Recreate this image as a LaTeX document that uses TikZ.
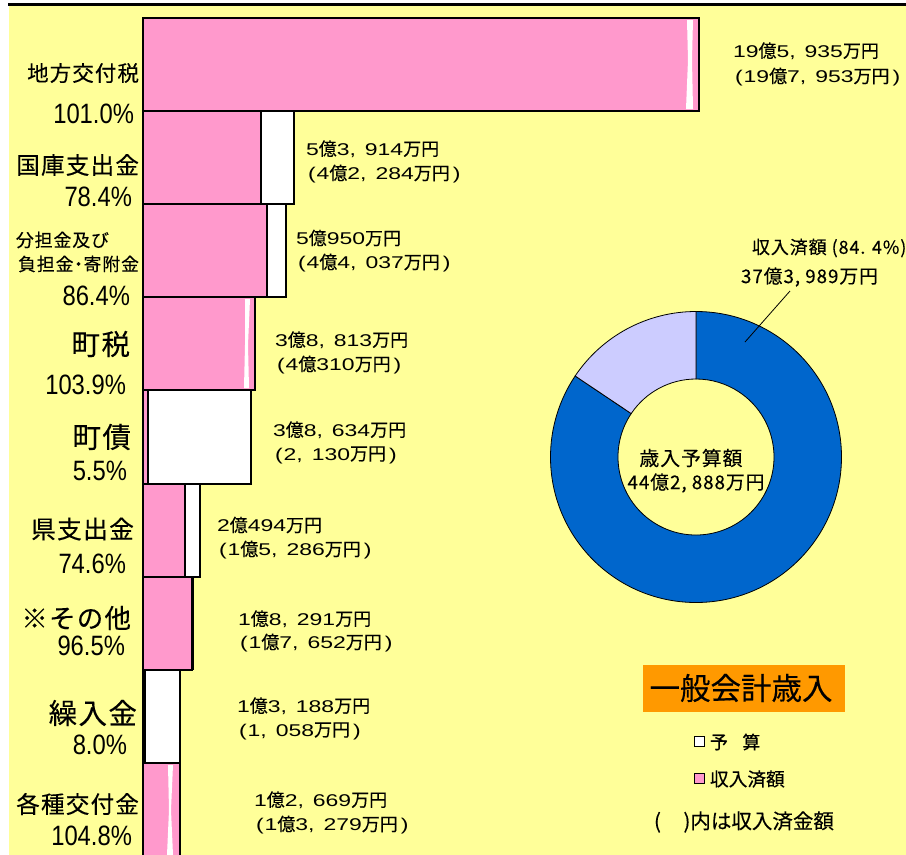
\documentclass[tikz,border=0pt]{standalone}
\usepackage{fontspec}
\setmainfont{Liberation Sans}
\newfontfamily\cjk[LetterSpace=5,FakeBold=0.25]{Noto Sans CJK JP}
\newfontfamily\cjkn[FakeBold=0.25]{Noto Sans CJK JP}
\newfontfamily\digitf[FakeStretch=1.35]{Liberation Sans}
\newfontfamily\pctf[FakeStretch=0.85]{Liberation Sans}
\definecolor{bgy}{HTML}{FFFF99}
\definecolor{pinkbar}{HTML}{FF99CC}
\definecolor{lav}{HTML}{CCCCFF}
\definecolor{donutblue}{HTML}{0066CC}
\definecolor{orangebox}{HTML}{FF9900}
\newcommand{\zh}[1]{\fontsize{#1}{#1}\selectfont\cjk}
\newcommand{\zn}[1]{\fontsize{#1}{#1}\selectfont\cjkn}
\newcommand{\dg}[1]{{\digitf\fontsize{17}{17}\selectfont #1}}
\newcommand{\cm}{\dg{,}\hspace{9pt}}
\newcommand{\lpr}{\hspace{2pt}\dg{(}\hspace{1pt}}
\newcommand{\rpr}{\hspace{3pt}\dg{)}}
\tikzset{
  x=1pt,y=-1pt,
  txt/.style={inner sep=0pt,outer sep=0pt,text=black},
  val/.style={txt,anchor=west,font=\zn{18}},
  pct/.style={txt,anchor=east,font=\fontsize{28}{28}\selectfont\pctf},
  cat/.style={txt,anchor=east},
  actual/.style={fill=pinkbar,draw=black,line width=1.7pt},
  budget/.style={fill=white,draw=black,line width=1.7pt},
  sliver/.style={fill=white,draw=none},
  ring/.style={draw=black,line width=0.8pt}
}
\newcommand{\seg}[3]{%
  \fill[#3,ring] (#1:145.5) arc[start angle=#1,end angle=#2,radius=145.5] -- (#2:78) arc[start angle=#2,end angle=#1,radius=78] -- cycle;
}
\begin{document}
\begin{tikzpicture}
\useasboundingbox (0,0) rectangle (906,855);
\fill[bgy] (9,6) rectangle (906,855);
\fill[black] (8,3) rectangle (906,6);
% bars
\begin{scope}
\clip (0,0) rectangle (906,855);
\draw[actual] (143,18) rectangle (699,111);
\fill[sliver] (687,20) -- (693,20) -- (692,60) -- (693,109) -- (686,109) -- (688,60) -- cycle;
\draw[budget] (143,111) rectangle (294,204);
\draw[actual] (143,111) rectangle (261,204);
\draw[budget] (143,204) rectangle (286,297);
\draw[actual] (143,204) rectangle (267,297);
\draw[actual] (143,297) rectangle (255,390);
\fill[sliver] (245,299) -- (250,299) -- (248,345) -- (249,388) -- (244,388) -- (245,345) -- cycle;
\draw[budget] (143,390) rectangle (251,484);
\draw[actual] (143,390) rectangle (148,484);
\draw[budget] (143,484) rectangle (200,577);
\draw[actual] (143,484) rectangle (185,577);
\draw[actual] (143,577) rectangle (192,670);
\draw[black,line width=2.2pt] (193,577) -- (193,670);
\draw[budget] (143,670) rectangle (180,763);
\draw[actual] (143,670) rectangle (145,763);
\draw[actual] (143,763) rectangle (180,860);
\fill[sliver] (168,765) -- (173,765) -- (171,810) -- (173,855) -- (167,855) -- (169,810) -- cycle;
\end{scope}
% category labels
\node[cat,font=\zh{21.5}] (c1) at (139,73) {地方交付税};
\node[pct] (p1) at (134,114) {101.0\%};
\node[cat,font=\zh{23.6}] (c2) at (139,165) {国庫支出金};
\node[pct] (p2) at (132,197) {78.4\%};
\node[cat,font=\zh{17.9}] (c3a) at (109,240) {分担金及び};
\node[cat,font=\zh{17.9}] (c3b) at (139,264) {負担金\hspace{-4pt}・\hspace{-4pt}寄附金};
\node[pct] (p3) at (130,296) {86.4\%};
\node[cat,font=\zh{28.5}] (c4) at (130,344) {町税};
\node[pct] (p4) at (126,385) {103.9\%};
\node[cat,font=\zh{28.5}] (c5) at (131,437) {町債};
\node[pct] (p5) at (127,471) {5.5\%};
\node[cat,font=\zh{24.8}] (c6) at (134,529) {県支出金};
\node[pct] (p6) at (126,564) {74.6\%};
\node[cat,font=\zh{26.4}] (c7) at (131,618) {※その他};
\node[pct] (p7) at (125,646) {96.5\%};
\node[cat,font=\zh{28.5}] (c8) at (137,713) {繰入金};
\node[pct] (p8) at (127,745) {8.0\%};
\node[cat,font=\zh{23.6}] (c9) at (139,804) {各種交付金};
\node[pct] (p9) at (132,836) {104.8\%};
% values
\node[val] (v1a) at (733,51) {\dg{19}億\dg{5}\cm\dg{935}万円};
\node[val] (v1b) at (733,77) {\lpr\dg{19}億\dg{7}\cm\dg{953}万円\rpr};
\node[val] (v2a) at (306,149) {\dg{5}億\dg{3}\cm\dg{914}万円};
\node[val] (v2b) at (306,174) {\lpr\dg{4}億\dg{2}\cm\dg{284}万円\rpr};
\node[val] (v3a) at (296,238) {\dg{5}億\dg{950}万円};
\node[val] (v3b) at (296,263) {\lpr\dg{4}億\dg{4}\cm\dg{037}万円\rpr};
\node[val] (v4a) at (275,340) {\dg{3}億\dg{8}\cm\dg{813}万円};
\node[val] (v4b) at (275,365) {\lpr\dg{4}億\dg{310}万円\rpr};
\node[val] (v5a) at (273,430) {\dg{3}億\dg{8}\cm\dg{634}万円};
\node[val] (v5b) at (273,455) {\lpr\dg{2}\cm\dg{130}万円\rpr};
\node[val] (v6a) at (217,525) {\dg{2}億\dg{494}万円};
\node[val] (v6b) at (217,550) {\lpr\dg{1}億\dg{5}\cm\dg{286}万円\rpr};
\node[val] (v7a) at (238,619) {\dg{1}億\dg{8}\cm\dg{291}万円};
\node[val] (v7b) at (238,643) {\lpr\dg{1}億\dg{7}\cm\dg{652}万円\rpr};
\node[val] (v8a) at (237,706) {\dg{1}億\dg{3}\cm\dg{188}万円};
\node[val] (v8b) at (237,731) {\lpr\dg{1}\cm\dg{058}万円\rpr};
\node[val] (v9a) at (254,800) {\dg{1}億\dg{2}\cm\dg{669}万円};
\node[val] (v9b) at (254,825) {\lpr\dg{1}億\dg{3}\cm\dg{279}万円\rpr};
% donut
\begin{scope}[shift={(696,457)},y=1pt]
\seg{90}{-213.84}{donutblue}
\seg{146.16}{90}{lav}
\end{scope}
\node[txt,font=\zh{19.8}] (d1) at (691,458) {歳入予算額};
\node[txt,font=\zh{18.8}] (d2) at (696,483) {44億2, 888万円};
\node[txt,font=\zh{18},anchor=west] (r1) at (752,248) {収入済額 (84. 4\%)};
\node[txt,font=\zh{18.8},anchor=west] (r2) at (741,277) {37億3, 989万円};
\coordinate (lead) at (745,342);
\draw[black,line width=0.8pt] (lead) -- (790,291);
% legend
\node[fill=orangebox,txt,minimum width=202pt,minimum height=47pt,font=\zn{30.5}] (title) at (744,688) {\hspace{-6pt}一般会計歳入};
\node[budget,minimum size=10pt,inner sep=0pt] (k1) at (699.5,741.5) {};
\node[txt,anchor=west,font=\zn{18}] (k1t) at (710,742) {予\hspace{0.8em}算};
\node[actual,minimum size=10pt,inner sep=0pt] (k2) at (699.5,778.5) {};
\node[txt,anchor=west,font=\zn{18.7}] (k2t) at (710,779) {収入済額};
\node[txt,anchor=west,font=\zn{20.5}] (note) at (654,822) {(\hspace{1.1em})内は収入済金額};
\end{tikzpicture}
\end{document}
